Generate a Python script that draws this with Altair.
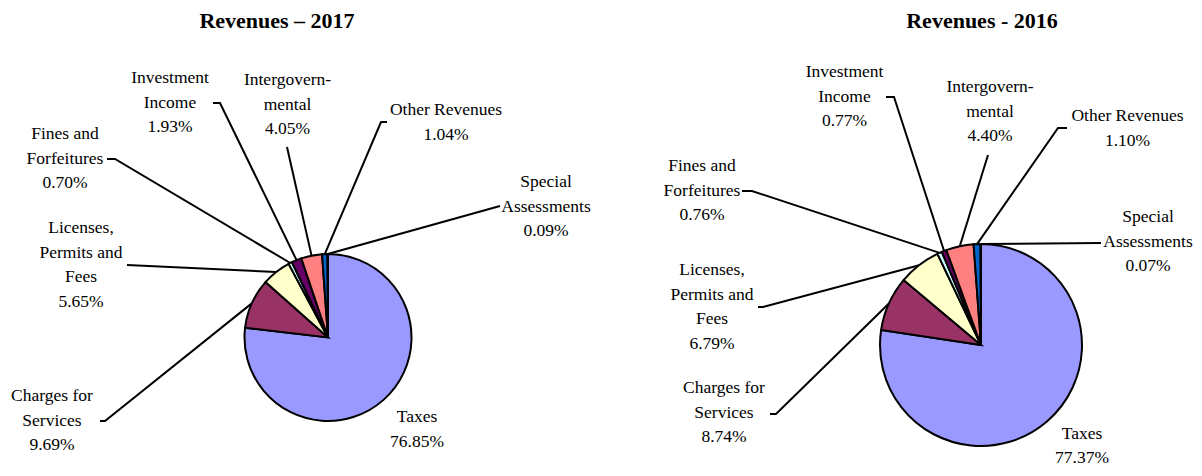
import math
import altair as alt
import pandas as pd

# ---------------- data ----------------
categories = ["Taxes", "Charges for Services", "Licenses, Permits and Fees",
              "Fines and Forfeitures", "Investment Income", "Intergovernmental",
              "Other Revenues", "Special Assessments"]
label_lines = [["Taxes"], ["Charges for", "Services"], ["Licenses,", "Permits and", "Fees"],
               ["Fines and", "Forfeitures"], ["Investment", "Income"],
               ["Intergovern-", "mental"], ["Other Revenues"], ["Special", "Assessments"]]
values_2017 = [76.85, 9.69, 5.65, 0.70, 1.93, 4.05, 1.04, 0.09]
values_2016 = [77.37, 8.74, 6.79, 0.76, 0.77, 4.40, 1.10, 0.07]
colors = ["#9999FF", "#993366", "#FFFFCC", "#CCFFFF", "#660066", "#FF8080", "#0066CC", "#CCCCFF"]

# ---------------- layout (page pixel coordinates) ----------------
W, H = 1186, 460
FONT = "Liberation Serif"
LABEL_SIZE = 17.5
LINE_H = 24.7

pies = {
    "2017": dict(values=values_2017, cx=328, cy=337.5, r=83.5,
                 title="Revenues \u2013 2017", tx=277, ty=28),
    "2016": dict(values=values_2016, cx=981, cy=345, r=101,
                 title="Revenues - 2016", tx=982, ty=28),
}
label_pos = {
    "2017": [(417, 417), (52, 396), (81, 228), (65, 134), (170, 78), (287.5, 80), (446, 110), (546, 182)],
    "2016": [(1082, 433.5), (724, 388), (712, 270), (702, 166), (844.5, 72), (990, 87), (1127.5, 116), (1148, 217)],
}
leader_pts = {
    "2017": [None, [(100, 421), (105, 421)], [(127, 265)], [(107, 159), (115, 159)],
             [(213, 103), (220, 103)], [(287, 147)], [(387, 122), (381, 122)], [(500, 206)]],
    "2016": [None, [(770, 414), (776, 414)], [(758, 307), (763, 307)], [(742, 191), (752, 191)],
             [(886, 97), (894, 97)], [(988, 155)], [(1067, 128), (1058, 128)], [(1101, 243)]],
}

xs = alt.Scale(domain=[8, 8 + W], range=[0, W])
ys = alt.Scale(domain=[8, 8 + H], range=[0, H])
color_scale = alt.Scale(domain=categories, range=colors)


def edge_point(values, i, cx, cy, r):
    total = sum(values)
    start = sum(values[:i])
    mid = (start + values[i] / 2.0) / total * 2 * math.pi
    return cx + r * math.sin(mid), cy - r * math.cos(mid)


layers = []
text_rows = []
line_rows = []
title_rows = []
for year, p in pies.items():
    vals = p["values"]
    df = pd.DataFrame({
        "category": categories,
        "value": vals,
        "idx": list(range(len(categories))),
        "cx": [p["cx"]] * len(categories),
        "cy": [p["cy"]] * len(categories),
    })
    pie = alt.Chart(df).mark_arc(radius=p["r"], stroke="black", strokeWidth=2).encode(
        x=alt.X("cx:Q", scale=xs, axis=None),
        y=alt.Y("cy:Q", scale=ys, axis=None),
        theta=alt.Theta("value:Q", stack=True),
        order=alt.Order("idx:Q"),
        color=alt.Color("category:N", scale=color_scale, legend=None),
    )
    layers.append(pie)

    title_rows.append({"x": p["tx"], "y": p["ty"], "t": p["title"]})

    for i, cat in enumerate(categories):
        lx, ly = label_pos[year][i]
        lines = label_lines[i] + [f"{vals[i]:.2f}%"]
        for k, s in enumerate(lines):
            text_rows.append({"x": lx, "y": ly + k * LINE_H, "t": s})
        pts = leader_pts[year][i]
        if pts:
            ex, ey = edge_point(vals, i, p["cx"], p["cy"], p["r"])
            path = list(pts) + [(ex, ey)]
            for s, (px, py) in enumerate(path):
                line_rows.append({"lid": f"{year}-{i}", "seq": s, "x": px, "y": py})

lines_chart = alt.Chart(pd.DataFrame(line_rows)).mark_line(
    color="black", strokeWidth=2, strokeJoin="miter"
).encode(
    x=alt.X("x:Q", scale=xs, axis=None),
    y=alt.Y("y:Q", scale=ys, axis=None),
    detail="lid:N",
    order="seq:Q",
)

labels_chart = alt.Chart(pd.DataFrame(text_rows)).mark_text(
    font=FONT, fontSize=LABEL_SIZE, color="black", align="center", baseline="middle"
).encode(
    x=alt.X("x:Q", scale=xs, axis=None),
    y=alt.Y("y:Q", scale=ys, axis=None),
    text="t:N",
)

titles_chart = alt.Chart(pd.DataFrame(title_rows)).mark_text(
    font=FONT, fontSize=22, fontWeight="bold", color="black", align="center", baseline="alphabetic"
).encode(
    x=alt.X("x:Q", scale=xs, axis=None),
    y=alt.Y("y:Q", scale=ys, axis=None),
    text="t:N",
)

chart = alt.layer(lines_chart, *layers, labels_chart, titles_chart).resolve_scale(
    theta="independent"
).properties(
    width=W, height=H, padding=0, background="white",
    autosize=alt.AutoSizeParams(type="none"),
).configure_view(stroke=None)

chart.save("out.html", embed_options={"renderer": "svg", "actions": False})
